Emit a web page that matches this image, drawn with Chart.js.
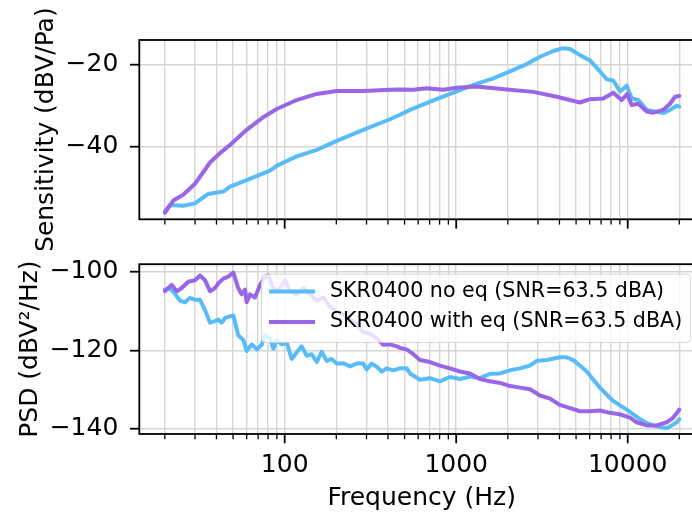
<!DOCTYPE html>
<html><head><meta charset="utf-8">
<script src="https://cdn.jsdelivr.net/npm/chart.js@4.4.0/dist/chart.umd.min.js"></script>
<style>
html,body{margin:0;padding:0;background:#fff;overflow:hidden;}
#wrap{position:relative;width:692px;height:514px;overflow:hidden;background:#fff;}
canvas{position:absolute;left:0;}
#top{top:0;} #bot{top:240px;}
</style></head><body>
<div id="wrap"><canvas id="top" width="704" height="250"></canvas><canvas id="bot" width="704" height="274"></canvas></div>
<script>
// ---- data ----
const seriesNames = ['SKR0400 no eq (SNR=63.5 dBA)', 'SKR0400 with eq (SNR=63.5 dBA)'];

const fSensNoEq = [20, 21.4, 25.6, 30, 35.8, 43.9, 48, 60, 82.1, 89.8, 117.5, 153.7, 201, 287, 411, 470, 538, 735, 1007, 1258, 1646, 2059, 2577, 3081, 3683, 4211, 4608, 5272, 6030, 6895, 7545, 8241, 9018, 9867, 10551, 11530, 12909, 16132, 17646, 19305, 20000];
const sensNoEq = [-55.9, -54.3, -54.5, -53.9, -51.6, -51.0, -49.8, -48.2, -45.9, -44.7, -42.4, -40.8, -38.6, -35.9, -33.3, -32.2, -31.0, -28.7, -26.5, -24.9, -23.3, -21.6, -19.8, -18.0, -16.6, -15.9, -16.1, -17.6, -18.9, -21.6, -23.5, -23.8, -26.5, -25.1, -28.2, -28.6, -31.0, -31.8, -31.0, -30.0, -30.2];

const fSensEq = [20, 22.4, 25.6, 30, 36.7, 41.9, 48, 60, 75, 89.8, 117.5, 153.7, 201, 287, 411, 470, 562, 673, 841, 1007, 1317, 1970, 2816, 3855, 5272, 6030, 7209, 8241, 9226, 9947, 10551, 11530, 12909, 14107, 16132, 17646, 18871, 20000];
const sensEq = [-56.2, -53.2, -51.8, -49.1, -43.9, -41.6, -39.6, -35.9, -32.8, -30.8, -28.6, -27.1, -26.4, -26.4, -26.1, -26.0, -26.1, -25.7, -26.1, -25.6, -25.3, -26.0, -26.6, -27.8, -29.2, -28.4, -28.2, -26.8, -28.6, -27.1, -29.8, -29.5, -31.4, -31.7, -31.0, -29.5, -27.8, -27.6];

const fPsdNoEq = [20, 21.4, 22.9, 24.5, 26.2, 28, 30, 32.1, 34.3, 36.7, 39.2, 41, 42.9, 44.9, 48, 50.2, 53.6, 57.4, 60, 64.2, 68.7, 73.4, 76.7, 82.1, 85.8, 89.8, 96, 102.7, 109.8, 117.5, 125.6, 134.4, 143.7, 153.7, 164.3, 175.8, 188, 201, 219.6, 240.3, 263, 287, 300.7, 321.6, 343.9, 367.8, 393.3, 429.8, 470, 514.4, 538, 615, 703, 804, 920, 1052, 1204, 1377, 1574, 1801, 2059, 2355, 2693, 2948, 3371, 4029, 4409, 4817, 5272, 5768, 6303, 6895, 7545, 8241, 9018, 9867, 10780, 11790, 12909, 14107, 15430, 16880, 18060, 19305, 20000];
const psdNoEq = [-104.6, -104.3, -105.6, -107.4, -107.8, -106.7, -107.2, -107.2, -109.8, -113.0, -112.6, -112.2, -113.0, -111.8, -111.4, -111.2, -116.2, -117.4, -120.2, -118.5, -119.8, -118.6, -116.2, -117.0, -119.6, -117.4, -118.5, -118.0, -122.2, -120.6, -119.0, -121.4, -121.0, -123.0, -120.4, -122.7, -122.2, -123.4, -123.3, -124.1, -123.4, -123.4, -124.9, -123.4, -124.2, -125.4, -124.6, -125.1, -124.6, -124.6, -125.9, -127.5, -127.1, -127.9, -126.8, -127.3, -126.7, -127.1, -126.0, -125.9, -125.1, -124.6, -123.9, -122.7, -122.5, -121.8, -121.8, -122.5, -123.9, -125.4, -127.5, -129.5, -131.3, -132.9, -134.0, -135.1, -136.3, -137.5, -138.5, -139.1, -139.5, -139.8, -139.1, -138.3, -137.5];

const fPsdEq = [20, 21.9, 23.5, 25.1, 27.4, 30, 32.1, 34.3, 36.7, 39.2, 41, 43.9, 46.9, 50.2, 53.6, 56.1, 58.7, 60, 62.8, 67.1, 71.8, 76.7, 80.2, 85.8, 91.8, 100.4, 107.4, 117.5, 128.4, 140.4, 153.7, 168, 183.7, 201, 229.9, 263, 287, 314.4, 343.9, 375.8, 411, 449.9, 470, 514.4, 562, 615, 703, 804, 920, 1052, 1204, 1377, 1574, 1801, 2059, 2355, 2693, 3081, 3524, 4029, 4608, 5272, 6030, 6895, 7885, 9018, 10310, 11280, 12909, 14760, 16880, 18450, 20000];
const psdEq = [-105.0, -103.4, -105.0, -104.2, -102.6, -102.2, -101.0, -102.2, -105.0, -104.2, -103.0, -101.8, -101.3, -100.3, -104.2, -105.8, -104.6, -107.8, -105.8, -106.6, -103.4, -101.3, -101.0, -104.2, -105.0, -102.2, -105.0, -105.8, -104.2, -105.8, -107.4, -106.6, -109.0, -110.2, -111.4, -113.4, -115.4, -115.8, -117.0, -118.6, -118.5, -119.0, -119.4, -119.8, -121.0, -122.5, -123.0, -123.9, -124.6, -125.4, -125.9, -127.3, -127.9, -128.3, -129.1, -129.5, -129.9, -131.5, -132.3, -133.9, -134.7, -135.5, -135.5, -135.3, -135.9, -136.3, -137.1, -138.3, -139.1, -139.1, -138.3, -137.1, -135.1];

const freqTicks = [20, 30, 40, 50, 60, 70, 80, 90, 100, 200, 300, 400, 500, 600, 700, 800, 900, 1000, 2000, 3000, 4000, 5000, 6000, 7000, 8000, 9000, 10000, 20000];
const freqTickLabels = [100, 1000, 10000];
const sensTicks = [-40, -20];
const psdTicks = [-140, -120, -100];

// ---- styling ----
const BLUE = '#58bcf8', PURPLE = '#9966e8', GRID = '#d5d5d5';
const FONT = "'DejaVu Sans', sans-serif";
const FS = 25;
const LW = 4;
Chart.defaults.font.family = FONT;
Chart.defaults.font.size = FS;
Chart.defaults.color = '#000';

const fmt = v => (v < 0 ? '\u2212' + Math.abs(v) : String(v));
const pts = (xs, ys) => xs.map((x, i) => ({x: x, y: ys[i]}));

const framePlugin = {
  id: 'frame',
  afterDatasetsDraw(chart) {
    const {ctx, chartArea: a, scales: {x}} = chart;
    ctx.save();
    ctx.strokeStyle = '#000';
    x.ticks.forEach(t => {
      const px = x.getPixelForValue(t.value);
      const major = freqTickLabels.includes(t.value);
      ctx.lineWidth = major ? 1.8 : 1.3;
      ctx.beginPath();
      ctx.moveTo(px, a.bottom);
      ctx.lineTo(px, a.bottom + (major ? 9.3 : 5.3));
      ctx.stroke();
    });
    ctx.lineWidth = 1.8;
    ctx.strokeRect(a.left, a.top, a.right - a.left, a.bottom - a.top);
    ctx.restore();
  }
};

const legendPlugin = {
  id: 'boxLegend',
  afterDraw(chart) {
    const ctx = chart.ctx;
    const a = chart.chartArea;
    const bx = 261.5, by = a.top + 10, bw = 429.2, bh = 68.3, r = 4;
    ctx.save();
    ctx.beginPath();
    ctx.moveTo(bx + r, by);
    ctx.lineTo(bx + bw - r, by); ctx.quadraticCurveTo(bx + bw, by, bx + bw, by + r);
    ctx.lineTo(bx + bw, by + bh - r); ctx.quadraticCurveTo(bx + bw, by + bh, bx + bw - r, by + bh);
    ctx.lineTo(bx + r, by + bh); ctx.quadraticCurveTo(bx, by + bh, bx, by + bh - r);
    ctx.lineTo(bx, by + r); ctx.quadraticCurveTo(bx, by, bx + r, by);
    ctx.closePath();
    ctx.fillStyle = 'rgba(255,255,255,0.8)';
    ctx.fill();
    ctx.strokeStyle = 'rgba(204,204,204,0.8)';
    ctx.lineWidth = 1;
    ctx.stroke();
    const cols = [BLUE, PURPLE];
    const ys = [by + 17.3, by + 47.7];
    ctx.font = '20.6px ' + FONT;
    ctx.textBaseline = 'middle';
    ctx.textAlign = 'left';
    for (let i = 0; i < 2; i++) {
      ctx.strokeStyle = cols[i];
      ctx.lineWidth = LW;
      ctx.beginPath();
      ctx.moveTo(269, ys[i]); ctx.lineTo(315, ys[i]);
      ctx.stroke();
      ctx.fillStyle = '#000';
      ctx.fillText(seriesNames[i], 330, ys[i]);
    }
    ctx.restore();
  }
};

function xScale(showLabels, h) {
  return {
    type: 'logarithmic', min: 14.197, max: 27855, bounds: 'data',
    afterBuildTicks: s => { s.ticks = freqTicks.map(v => ({value: v})); },
    afterFit: s => { s.height = h; },
    ticks: showLabels ? {
      display: true, autoSkip: false, maxRotation: 0, minRotation: 0, padding: 18.5,
      font: {size: FS, lineHeight: 1}, color: '#000',
      callback: v => (freqTickLabels.includes(v) ? String(v) : '')
    } : {display: false},
    grid: {color: GRID, lineWidth: 1.4, drawTicks: false},
    border: {display: false},
    title: showLabels ? {display: true, text: 'Frequency (Hz)', color: '#000', font: {size: FS, lineHeight: 1}, padding: {top: 0, bottom: 2.8}} : {display: false}
  };
}

function yScale(min, max, tickVals, title, titlePad) {
  return {
    type: 'linear', min: min, max: max,
    afterBuildTicks: s => { s.ticks = tickVals.map(v => ({value: v})); },
    afterFit: s => { s.width = 139.3; },
    ticks: {padding: 11.7, autoSkip: false, color: '#000', font: {size: FS, lineHeight: 1}, callback: v => fmt(v)},
    grid: {color: GRID, lineWidth: 1.4, drawTicks: true, tickLength: 9.3, tickColor: '#000', tickWidth: 1.8},
    border: {display: false},
    title: {display: true, text: title, color: '#000', font: {size: FS, lineHeight: 1}, padding: {top: titlePad, bottom: 0}}
  };
}

function ds(label, data, color, order) {
  return {label: label, data: data, borderColor: color, backgroundColor: color, borderWidth: LW,
          pointRadius: 0, tension: 0, fill: false, order: order, borderJoinStyle: 'round', borderCapStyle: 'round'};
}

const common = {
  responsive: false, animation: false, events: [],
  plugins: {legend: {display: false}, tooltip: {enabled: false}}
};

new Chart(document.getElementById('top'), {
  type: 'line',
  data: {datasets: [
    ds(seriesNames[0], pts(fSensNoEq, sensNoEq), BLUE, 1),
    ds(seriesNames[1], pts(fSensEq, sensEq), PURPLE, 0)
  ]},
  options: Object.assign({}, common, {
    layout: {padding: {top: 40, left: 0, right: 0, bottom: 0}},
    scales: {x: xScale(false, 30.7), y: yScale(-57.8, -13.9, sensTicks, 'Sensitivity (dBV/Pa)', 34)}
  }),
  plugins: [framePlugin]
});

new Chart(document.getElementById('bot'), {
  type: 'line',
  data: {datasets: [
    ds(seriesNames[0], pts(fPsdNoEq, psdNoEq), BLUE, 1),
    ds(seriesNames[1], pts(fPsdEq, psdEq), PURPLE, 0)
  ]},
  options: Object.assign({}, common, {
    layout: {padding: {top: 15, left: 0, right: 0, bottom: 0}},
    scales: {x: xScale(true, 80), y: yScale(-141.28, -98.14, psdTicks, 'PSD (dBV\u00b2/Hz)', 18.2)}
  }),
  plugins: [framePlugin, legendPlugin]
});
</script></body></html>
